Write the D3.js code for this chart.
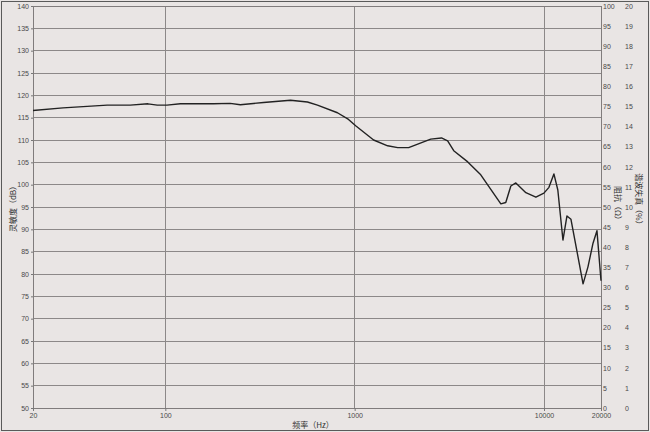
<!DOCTYPE html>
<html><head><meta charset="utf-8">
<script src="https://cdn.jsdelivr.net/npm/d3@7"></script>
<style>html,body{margin:0;padding:0;background:#e9e5e4;}svg{display:block;}</style>
</head><body>
<script>
const freqs = [20,28.8,49.3,65.2,81,90.6,102,120,179,220,249,330,458,563,636,811,928,1012,1259,1493,1687,1928,2521,2874,3098,3336,3956,4634,5916,6282,6681,7100,8020,9060,9990,10620,11280,11830,12590,13220,13880,16080,17070,18150,19040,20000];
const spl = [116.6,117.2,117.8,117.8,118.1,117.8,117.8,118.1,118.1,118.2,117.9,118.4,118.9,118.5,117.8,116.1,114.6,113.2,110.0,108.7,108.3,108.3,110.2,110.45,109.8,107.6,105.1,102.2,95.7,96.0,99.7,100.4,98.2,97.2,98.1,99.4,102.4,98.8,87.6,93.0,92.25,77.8,81.6,86.9,89.7,78.5];
const xTicks = [20,100,1000,10000,20000];
const xGrid = [100,1000,10000];
const splTicks = d3.range(50,141,5);
const impTicks = d3.range(0,101,5);
const thdTicks = d3.range(0,21,1);
const xTitle = "频率（Hz）", yTitle = "灵敏度（dB）", imp = "阻抗（Ω）", thd = "谐波失真（%）";

const W=650,H=432;
const L=33,R=601,T=6,B=408;
const svg=d3.select("body").append("svg").attr("width",W).attr("height",H);
svg.append("rect").attr("x",0).attr("y",0).attr("width",W).attr("height",H).attr("fill","#e9e5e4");
svg.append("rect").attr("x",1.5).attr("y",1.5).attr("width",W-3).attr("height",H-3).attr("fill","none").attr("stroke","#5a5a5a").attr("stroke-width",1);

const x=d3.scaleLog().domain([20,20000]).range([L,R]);
const y=d3.scaleLinear().domain([50,140]).range([B,T]);
const yImp=d3.scaleLinear().domain([0,100]).range([B,T]);
const yThd=d3.scaleLinear().domain([0,20]).range([B,T]);

const grid=svg.append("g").attr("stroke","#8c8888").attr("stroke-width",1).attr("shape-rendering","crispEdges");
splTicks.forEach(v=>grid.append("line").attr("x1",L).attr("x2",R).attr("y1",y(v)).attr("y2",y(v)));
xGrid.forEach(v=>grid.append("line").attr("y1",T).attr("y2",B).attr("x1",x(v)).attr("x2",x(v)));
svg.append("rect").attr("x",L).attr("y",T).attr("width",R-L).attr("height",B-T).attr("fill","none").attr("stroke","#807c7c").attr("shape-rendering","crispEdges");

const font="'Liberation Sans',Arial,sans-serif";
const axL=svg.append("g").attr("transform",`translate(${L},0)`).call(d3.axisLeft(y).tickValues(splTicks).tickSize(2).tickPadding(2));
const axB=svg.append("g").attr("transform",`translate(0,${B})`).call(d3.axisBottom(x).tickValues(xTicks).tickFormat(d3.format("d")).tickSize(3).tickPadding(2));
const axR=svg.append("g").attr("transform",`translate(${R},0)`).call(d3.axisRight(yImp).tickValues(impTicks).tickSize(0).tickPadding(2));
const axR2=svg.append("g").attr("transform",`translate(${R+24},0)`).call(d3.axisRight(yThd).tickValues(thdTicks).tickSize(0).tickPadding(0));
[axL,axB,axR,axR2].forEach(a=>{
  a.select(".domain").remove();
  a.selectAll("line").attr("stroke","#777");
  a.selectAll("text").attr("font-family",font).attr("font-size",7).attr("fill","#4a4a4a");
});

const line=d3.line().x((d,i)=>x(freqs[i])).y(d=>y(d));
svg.append("path").datum(spl).attr("d",line).attr("fill","none").attr("stroke","#222").attr("stroke-width",1.4).attr("stroke-linejoin","round");

const cjk="'Noto Sans CJK SC','Noto Sans',sans-serif";
svg.append("text").attr("x",313).attr("y",428).attr("text-anchor","middle").attr("font-family",cjk).attr("font-size",8).attr("fill","#333").text(xTitle);
svg.append("text").attr("transform","translate(16,207) rotate(-90)").attr("text-anchor","middle").attr("font-family",cjk).attr("font-size",8).attr("fill","#333").text(yTitle);
svg.append("text").attr("transform","translate(615,205) rotate(90)").attr("text-anchor","middle").attr("font-family",cjk).attr("font-size",8).attr("fill","#333").text(imp);
svg.append("text").attr("transform","translate(636,201) rotate(90)").attr("text-anchor","middle").attr("font-family",cjk).attr("font-size",8).attr("fill","#333").text(thd);
</script>
</body></html>
